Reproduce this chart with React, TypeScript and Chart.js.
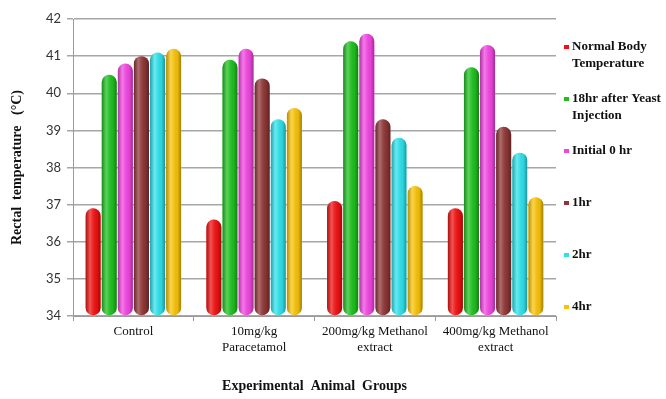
import React, { useEffect, useRef } from "react";
import { Chart, registerables } from "chart.js";

Chart.register(...registerables);

const categories: (string | string[])[] = [
  "Control",
  ["10mg/kg", "Paracetamol"],
  ["200mg/kg Methanol", "extract"],
  ["400mg/kg Methanol", "extract"],
];

const seriesLabels = ["Normal Body Temperature", "18hr after Yeast Injection", "Initial 0 hr", "1hr", "2hr", "4hr"];
const legendLines: string[][] = [
  ["Normal Body", "Temperature"],
  ["18hr after Yeast", "Injection"],
  ["Initial 0 hr"],
  ["1hr"],
  ["2hr"],
  ["4hr"],
];

const normalBody = [36.9, 36.6, 37.1, 36.9];
const after18hr = [40.5, 40.9, 41.4, 40.7];
const initial0hr = [40.8, 41.2, 41.6, 41.3];
const hr1 = [41.0, 40.4, 39.3, 39.1];
const hr2 = [41.1, 39.3, 38.8, 38.4];
const hr4 = [41.2, 39.6, 37.5, 37.2];

const seriesValues = [normalBody, after18hr, initial0hr, hr1, hr2, hr4];
const seriesColors = ["#ee1111", "#1fbf1f", "#f046e0", "#8e3535", "#2fe0ea", "#f7c20a"];

const yTicks = [34, 35, 36, 37, 38, 39, 40, 41, 42];
const yMin = 34;
const yMax = 42;

const shadePlugin = {
  id: "cylShade",
  afterDatasetsDraw(chart: any) {
    const ctx = chart.ctx;
    const area = chart.chartArea;
    chart.data.datasets.forEach((_ds: any, di: number) => {
      const meta = chart.getDatasetMeta(di);
      meta.data.forEach((bar: any) => {
        const { x, y, base, width } = bar.getProps(["x", "y", "base", "width"], true);
        const b = Math.min(base, area.bottom);
        const left = x - width / 2;
        const r = width / 2;
        ctx.save();
        ctx.beginPath();
        ctx.roundRect(left, y, width, b - y, r);
        ctx.clip();
        const g = ctx.createLinearGradient(left, 0, left + width, 0);
        g.addColorStop(0, "rgba(0,0,0,0.28)");
        g.addColorStop(0.3, "rgba(255,255,255,0.28)");
        g.addColorStop(0.45, "rgba(255,255,255,0.12)");
        g.addColorStop(0.75, "rgba(0,0,0,0.05)");
        g.addColorStop(1, "rgba(0,0,0,0.35)");
        ctx.fillStyle = g;
        ctx.fillRect(left, y, width, b - y);
        ctx.restore();
      });
    });
  },
};

const legendPlugin = {
  id: "sideLegend",
  afterDraw(chart: any) {
    const ctx = chart.ctx;
    ctx.save();
    ctx.font = 'bold 13px "Liberation Serif"';
    ctx.textBaseline = "middle";
    ctx.textAlign = "left";
    legendLines.forEach((lines, i) => {
      const cy = 47 + i * 52;
      ctx.fillStyle = seriesColors[i];
      ctx.fillRect(564, cy - 2, 5, 4);
      ctx.fillStyle = "#111";
      lines.forEach((t, li) => {
        ctx.fillText(t, 572, cy + li * 17);
      });
    });
    ctx.restore();
  },
};

export default function App() {
  const ref = useRef<HTMLCanvasElement>(null);
  useEffect(() => {
    if (!ref.current) return;
    const chart = new Chart(ref.current, {
      type: "bar",
      data: {
        labels: categories as any,
        datasets: seriesValues.map((vals, i) => ({
          label: seriesLabels[i],
          data: vals,
          base: yMin,
          backgroundColor: seriesColors[i],
          borderRadius: 20,
          borderSkipped: false,
          categoryPercentage: 0.8,
          barPercentage: 0.94,
        })),
      },
      options: {
        animation: false,
        responsive: true,
        maintainAspectRatio: false,
        layout: { padding: { left: 0, right: 110, top: 19, bottom: 0 } },
        plugins: { legend: { display: false }, tooltip: { enabled: false } },
        scales: {
          x: {
            afterFit: (s: any) => {
              s.height = 83;
            },
            grid: { display: true, drawOnChartArea: false, offset: true, tickLength: 5, color: "#9a9a9a" },
            border: { display: true, color: "#9a9a9a" },
            ticks: { font: { family: "Liberation Serif", size: 13 }, color: "#111", padding: 3, maxRotation: 0, autoSkip: false },
            title: {
              display: true,
              text: "Experimental  Animal  Groups",
              font: { family: "Liberation Serif", size: 14, weight: "bold" },
              color: "#111",
              padding: { top: 0, bottom: 4 },
            },
          },
          y: {
            min: yMin,
            max: yMax,
            afterFit: (s: any) => {
              s.width = 73;
            },
            afterBuildTicks: (s: any) => {
              s.ticks = yTicks.map((v) => ({ value: v }));
            },
            grid: { color: "#a6a6a6", lineWidth: 1.5, tickLength: 6 },
            border: { display: true, color: "#9a9a9a" },
            ticks: { font: { family: "Lato", size: 13 }, color: "#333", padding: 6 },
            title: {
              display: true,
              text: "Rectal  temperature   (°C)",
              font: { family: "Liberation Serif", size: 14, weight: "bold" },
              color: "#111",
              padding: { top: 9, bottom: 0 },
            },
          },
        },
      },
      plugins: [shadePlugin, legendPlugin],
    });
    return () => chart.destroy();
  }, []);
  return (
    <div style={{ position: "fixed", left: 0, top: 0, width: 666, height: 399, background: "#fff" }}>
      <canvas ref={ref} />
    </div>
  );
}
